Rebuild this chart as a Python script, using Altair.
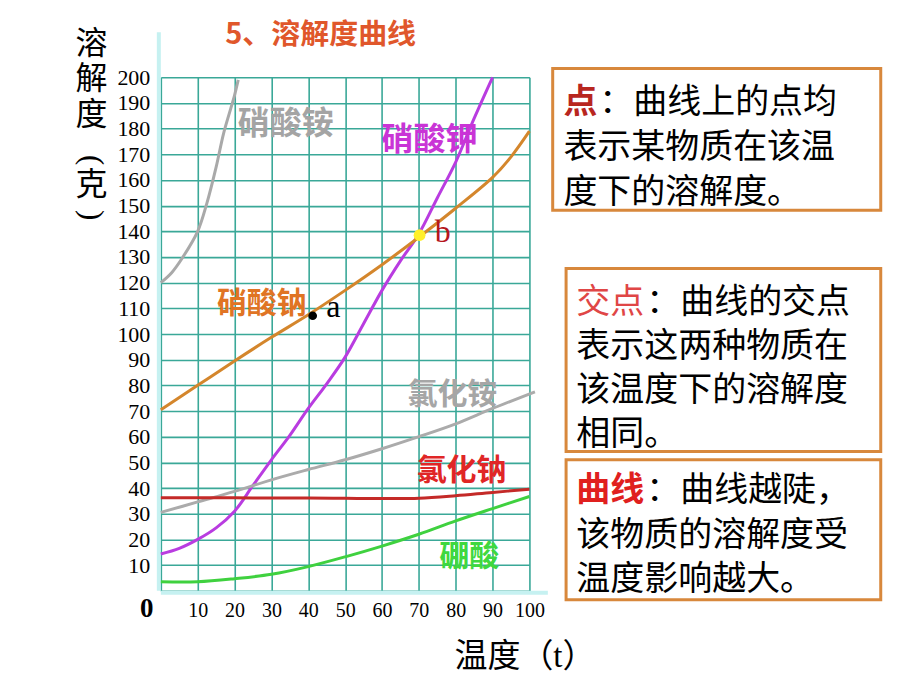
import altair as alt
import pandas as pd

# ---------------- data ----------------
substances = ["硝酸铵", "硝酸钾", "硝酸钠", "氯化铵", "氯化钠", "硼酸"]
line_colors = ["#a9a9a9", "#b93ce0", "#d4862c", "#ababab", "#c42a28", "#3fd13f"]

t_nh4no3 = [0, 3, 6, 10, 12.5, 15, 17, 19, 20, 21]
s_nh4no3 = [120, 124, 130, 140, 151, 165, 178, 188, 193, 199]

t_kno3 = [0, 5, 10, 15, 20, 25, 30, 35, 40, 45, 50, 55, 60, 65, 70, 75, 80, 85, 90]
s_kno3 = [14.3, 16.5, 20, 24.5, 31, 41, 51, 60.5, 71, 80.6, 91, 104, 117, 128.5, 139, 153, 167, 184, 200]

t_nano3 = [0, 10, 20, 30, 40, 50, 60, 70, 80, 90, 95, 100]
s_nano3 = [70.5, 80, 89.5, 98.7, 107.5, 117, 127, 137.7, 149, 161, 169, 179]

t_nh4cl = [0, 10, 20, 30, 40, 50, 60, 70, 80, 90, 101.5]
s_nh4cl = [30.5, 34.6, 38.7, 43.2, 47.2, 51, 55.3, 60, 65, 71, 77.5]

t_nacl = [0, 10, 20, 30, 40, 50, 60, 70, 80, 90, 100]
s_nacl = [36.2, 36.2, 36.2, 36.1, 36.1, 36.0, 35.9, 36.0, 37.0, 38.3, 39.5]

t_h3bo3 = [0, 10, 20, 30, 40, 50, 60, 70, 80, 90, 100]
s_h3bo3 = [3.5, 3.5, 4.7, 6.4, 9.4, 13.2, 17.4, 22, 27.2, 32, 36.7]

point_names = ["a", "b"]
point_t = [41.2, 70.2]
point_s = [107.1, 138.5]

x_ticks = [0, 10, 20, 30, 40, 50, 60, 70, 80, 90, 100]
y_ticks = [0, 10, 20, 30, 40, 50, 60, 70, 80, 90, 100, 110, 120, 130, 140, 150,
           160, 170, 180, 190, 200]

chart_title = "5、溶解度曲线"
y_title_top = "溶\n解\n度"
y_title_unit = "克"
y_title_brackets = ["(", ")"]
x_title = "温度（t）"

box1_first = ("点", "：曲线上的点均")
box1_rest = "表示某物质在该温\n度下的溶解度。"
box2_first = ("交点", "：曲线的交点")
box2_rest = "表示这两种物质在\n该温度下的溶解度\n相同。"
box3_first = ("曲线", "：曲线越陡，")
box3_rest = "该物质的溶解度受\n温度影响越大。"

# ---------------- tables built from the arrays ----------------
series = [
    (substances[0], t_nh4no3, s_nh4no3),
    (substances[1], t_kno3, s_kno3),
    (substances[2], t_nano3, s_nano3),
    (substances[3], t_nh4cl, s_nh4cl),
    (substances[4], t_nacl, s_nacl),
    (substances[5], t_h3bo3, s_h3bo3),
]
rows = []
for name, ts, ss in series:
    for t, s in zip(ts, ss):
        rows.append({"name": name, "T": t, "S": s})
curves = pd.DataFrame(rows)
points = pd.DataFrame({"name": point_names, "T": point_t, "S": point_s})

# ---------------- styling / layout ----------------
W, H = 369, 514
CJK = "Noto Sans CJK SC"
SERIF = "Liberation Serif"
GRID = "#3aa898"
AXIS_CYAN = "#c6f1f1"
BOX = "#d8883c"

x_scale = alt.Scale(domain=[0, 100], nice=False, zero=False)
y_scale = alt.Scale(domain=[0, 200], nice=False, zero=False)
hide_zero = "datum.value == 0 ? '' : datum.label"
x_axis = alt.Axis(values=x_ticks, labelExpr=hide_zero, grid=True, gridColor=GRID,
                  gridWidth=1.6, domain=False, ticks=False, tickSize=0,
                  labelFont=SERIF, labelFontSize=20, labelColor="black",
                  labelPadding=10, labelFlush=False, labelOverlap=False, title=None)
y_axis = alt.Axis(values=y_ticks, labelExpr=hide_zero, grid=True, gridColor=GRID,
                  gridWidth=1.6, domain=False, ticks=False, tickSize=0,
                  labelFont=SERIF, labelFontSize=22, labelColor="black",
                  labelPadding=11, labelFlush=False, labelOverlap=False, title=None)
X = alt.X("T:Q", scale=x_scale, axis=x_axis)
Y = alt.Y("S:Q", scale=y_scale, axis=y_axis)

layers = []

# light cyan axis edges
layers.append(
    alt.Chart(pd.DataFrame({"T": [0], "S": [0], "S2": [217.5]}))
    .mark_rule(color=AXIS_CYAN, strokeWidth=4, xOffset=-2)
    .encode(x=X, y=Y, y2="S2:Q")
)
layers.append(
    alt.Chart(pd.DataFrame({"T": [0], "T2": [105], "S": [0]}))
    .mark_rule(color=AXIS_CYAN, strokeWidth=4, yOffset=2)
    .encode(x=X, x2="T2:Q", y=Y)
)

# solubility curves
layers.append(
    alt.Chart(curves)
    .mark_line(strokeWidth=3, interpolate="catmull-rom")
    .encode(x=X, y=Y,
            color=alt.Color("name:N", scale=alt.Scale(domain=substances, range=line_colors),
                            legend=None))
)

# points a and b
layers.append(
    alt.Chart(points[points["name"] == "a"]).mark_circle(size=75, color="black", opacity=1)
    .encode(x=X, y=Y)
)
layers.append(
    alt.Chart(points[points["name"] == "b"]).mark_circle(size=140, color="#fff02a", opacity=1)
    .encode(x=X, y=Y)
)

# point letters
letter_pos = {"a": (44.9, 106.7, "black"), "b": (74.3, 135.9, "#b5161c")}
for nm in point_names:
    lt, ls, col = letter_pos[nm]
    layers.append(
        alt.Chart(pd.DataFrame({"T": [lt], "S": [ls], "txt": [nm]}))
        .mark_text(font=SERIF, fontSize=32, color=col, align="left", baseline="alphabetic")
        .encode(x=X, y=Y, text="txt:N")
    )

# curve labels
label_style = {
    "硝酸铵": (33.9, 181.9, "#a4a4a4", 32),
    "硝酸钾": (72.9, 175.6, "#c934d6", 32),
    "硝酸钠": (27.4, 111.5, "#e07424", 30),
    "氯化铵": (79.1, 76.1, "#a6a6a6", 30),
    "氯化钠": (81.6, 46.5, "#e02626", 30),
    "硼酸": (83.7, 13.1, "#3fd83f", 30),
}
for nm in substances:
    lt, ls, col, fs = label_style[nm]
    layers.append(
        alt.Chart(pd.DataFrame({"T": [lt], "S": [ls], "txt": [nm]}))
        .mark_text(font=CJK, fontSize=fs, fontWeight="bold", color=col,
                   align="center", baseline="middle")
        .encode(x=X, y=Y, text="txt:N")
    )


def ptext(txt, x, y, **kw):
    return (alt.Chart(pd.DataFrame({"txt": [txt]}))
            .mark_text(lineBreak="\n", **kw)
            .encode(x=alt.value(x), y=alt.value(y), text="txt:N"))


def pbox(x0, y0, x1, y1):
    return (alt.Chart(pd.DataFrame({"k": [0]}))
            .mark_rect(fill="white", stroke=BOX, strokeWidth=3)
            .encode(x=alt.value(x0), x2=alt.value(x1), y=alt.value(y0), y2=alt.value(y1)))


# origin "0"
layers.append(ptext("0", -14, 532, font=SERIF, fontSize=27, fontWeight="bold",
                    color="black", align="center", baseline="middle"))

# chart title
layers.append(ptext(chart_title, 160, -42.7, font=CJK, fontSize=29, fontWeight="bold",
                    color="#e0572b", align="center", baseline="middle"))

# vertical y title (brackets turned a quarter turn, as in vertical writing)
YT_FS = 32
layers.append(ptext(y_title_top, -69.5, -48.4, font=CJK, fontSize=YT_FS, lineHeight=35.4,
                    color="black", align="center", baseline="top"))
layers.append(ptext(y_title_unit, -69.5, 92.4, font=CJK, fontSize=YT_FS,
                    color="black", align="center", baseline="top"))
for ch, yy in zip(y_title_brackets, [83, 138]):
    layers.append(ptext(ch, -69.5, yy, font=SERIF, fontSize=31, angle=90, color="black",
                        align="center", baseline="middle"))

# x title
layers.append(ptext(x_title, 294, 580.6, font=SERIF + ", " + CJK, fontSize=33,
                    color="black", align="left", baseline="middle"))

# explanation boxes
FS = 34
boxes = [
    ((392.3, -8.7, 720.7, 133), 403, 9, 54, 45, box1_first, box1_rest, "#b8261f", "bold"),
    ((405.7, 191.3, 720.7, 374.7), 416, 209, 253.1, 44, box2_first, box2_rest, "#e04646", "normal"),
    ((405.7, 383, 720.7, 523), 416, 397.5, 442, 44, box3_first, box3_rest, "#e0201e", "bold"),
]
for rect, x0, y_first, y_rest, lh, first, rest, pcol, pweight in boxes:
    layers.append(pbox(*rect))
    prefix, tail = first
    layers.append(ptext(prefix, x0, y_first, font=CJK, fontSize=FS, fontWeight=pweight,
                        color=pcol, align="left", baseline="top"))
    layers.append(ptext(tail, x0 + FS * len(prefix) + 2, y_first, font=CJK, fontSize=FS,
                        color="black", align="left", baseline="top"))
    layers.append(ptext(rest, x0, y_rest, font=CJK, fontSize=FS, lineHeight=lh,
                        color="black", align="left", baseline="top"))

chart = (
    alt.layer(*layers)
    .properties(width=W, height=H,
                autosize=alt.AutoSizeParams(type="none"),
                padding={"left": 153, "top": 69, "right": 383, "bottom": 91},
                background="white")
    .configure_view(stroke=None)
)

chart.save("out.html", embed_options={"renderer": "svg", "actions": False})
